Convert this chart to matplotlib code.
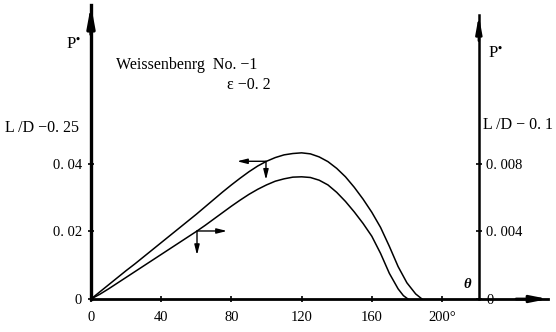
import matplotlib
matplotlib.use("Agg")
import matplotlib.pyplot as plt

plt.rcParams['font.family'] = ['Liberation Serif', 'DejaVu Serif']
plt.rcParams['mathtext.fontset'] = 'stix'

# --- data ---
theta_upper = [0, 5, 10, 15, 20, 25, 30, 35, 40, 45, 50, 55, 60, 65, 70, 75, 80, 85, 90, 95, 100,
               105, 110, 115, 120, 125, 130, 135, 140, 145, 150, 155, 160, 165, 170, 175, 180, 185, 188.6]
p_upper = [0, 0.0021, 0.0042, 0.0063, 0.0084, 0.0104, 0.0125, 0.0146, 0.0167, 0.0188, 0.0209, 0.0230,
           0.0251, 0.0273, 0.0295, 0.0317, 0.0338, 0.0358, 0.0377, 0.0394, 0.0408, 0.0419, 0.0427,
           0.0431, 0.0433, 0.0430, 0.0421, 0.0407, 0.0387, 0.0362, 0.0331, 0.0296, 0.0257, 0.0212,
           0.0156, 0.0096, 0.0048, 0.0015, 0]                   # L/D = 0.25, left axis

theta_lower = [0, 5, 10, 15, 20, 25, 30, 35, 40, 45, 50, 55, 60, 65, 70, 75, 80, 85, 90, 95, 100,
               105, 110, 115, 120, 125, 130, 135, 140, 145, 150, 155, 160, 165, 170, 175, 178, 180.6]
p_lower = [0, 0.00028, 0.0006, 0.00094, 0.00128, 0.00162, 0.00196, 0.0023, 0.00264, 0.00298,
           0.00332, 0.00366, 0.0040, 0.00436, 0.00474, 0.00512, 0.0055, 0.00586, 0.0062, 0.0065,
           0.00676, 0.00698, 0.00712, 0.00722, 0.00724, 0.0072, 0.00704, 0.00676, 0.00632, 0.00578,
           0.00516, 0.00448, 0.00372, 0.0027, 0.00152, 0.0006, 0.0002, 0]   # L/D = 0.1, right axis

x_ticks = [0, 40, 80, 120, 160, 200]
x_labels = ['0', '40', '80', '120', '160', '200°']
left_ticks = [0, 0.02, 0.04]
left_labels = ['0', '0. 02', '0. 04']
right_ticks = [0, 0.004, 0.008]
right_labels = ['0', '0. 004', '0. 008']

# indicator arrows: (point on curve x, y, end of horizontal arrow x, end of down arrow y)
upper_marker = (99.7, 0.0408, 83.2, 0.0353)
lower_marker = (60.4, 0.00403, 77.5, 0.0026)

x_max = 260.4
y_max = 0.0871
right_axis_pos = 221
right_axis_top = 0.0168

fig = plt.figure(figsize=(5.56, 3.32), dpi=100)
ax = fig.add_axes([91/556, 33/332, 457/556, 294/332])
ax.set_xlim(0, x_max)
ax.set_ylim(0, y_max)
for s in ['top', 'right']:
    ax.spines[s].set_visible(False)
ax.spines['left'].set_linewidth(2.4)
ax.spines['bottom'].set_linewidth(2.0)

ax.plot(theta_upper, p_upper, color='black', lw=1.1)

ax.set_xticks(x_ticks, labels=x_labels)
ax.set_yticks(left_ticks, labels=left_labels)
ax.tick_params(axis='both', direction='inout', length=5, width=1.2, labelsize=10.5)
ax.tick_params(axis='x', pad=6)
ax.tick_params(axis='y', pad=4)

# arrows on axes
ax.annotate('', xy=(0, 1.0), xycoords='axes fraction', xytext=(0, 0.9),
            arrowprops=dict(arrowstyle='-|>,head_length=1.2,head_width=0.22', lw=2.4, color='black',
                            shrinkA=0, shrinkB=0))
ax.annotate('', xy=(1.0, 0), xycoords='axes fraction', xytext=(0.93, 0),
            arrowprops=dict(arrowstyle='-|>,head_length=1.0,head_width=0.2', lw=2.0, color='black',
                            shrinkA=0, shrinkB=0))

ax2 = ax.twinx()
ax2.set_ylim(0, y_max / 5)
for s in ['top', 'left', 'bottom']:
    ax2.spines[s].set_visible(False)
ax2.spines['right'].set_position(('data', right_axis_pos))
ax2.spines['right'].set_bounds(0, right_axis_top)
ax2.spines['right'].set_linewidth(1.8)
ax2.set_yticks(right_ticks, labels=right_labels)
ax2.tick_params(axis='y', direction='inout', length=5, width=1.2, labelsize=10.5, pad=3)
ax2.plot(theta_lower, p_lower, color='black', lw=1.1)
ax2.annotate('', xy=(right_axis_pos, right_axis_top), xycoords='data',
             xytext=(right_axis_pos, right_axis_top - 0.0015),
             arrowprops=dict(arrowstyle='-|>,head_length=1.0,head_width=0.18', lw=1.8, color='black',
                             shrinkA=0, shrinkB=0))

# indicator arrows on curves
ux, uy, uxe, uye = upper_marker
ax.annotate('', xy=(uxe, uy), xytext=(ux, uy),
            arrowprops=dict(arrowstyle='-|>,head_length=0.6,head_width=0.15', lw=1.0, color='black',
                            shrinkA=0, shrinkB=0))
ax.annotate('', xy=(ux, uye), xytext=(ux, uy),
            arrowprops=dict(arrowstyle='-|>,head_length=0.6,head_width=0.15', lw=1.0, color='black',
                            shrinkA=0, shrinkB=0))
lx, ly, lxe, lye = lower_marker
ax2.annotate('', xy=(lxe, ly), xytext=(lx, ly),
             arrowprops=dict(arrowstyle='-|>,head_length=0.6,head_width=0.15', lw=1.0, color='black',
                             shrinkA=0, shrinkB=0))
ax2.annotate('', xy=(lx, lye), xytext=(lx, ly),
             arrowprops=dict(arrowstyle='-|>,head_length=0.6,head_width=0.15', lw=1.0, color='black',
                             shrinkA=0, shrinkB=0))

# texts (figure pixel coordinates, origin top-left)
def ftext(x, y, s, **kw):
    fig.text(x / 556, 1 - y / 332, s, va='center', **kw)

ftext(66, 45, 'P$^{\\bullet}$', fontsize=12, ha='left')
ftext(488, 54, 'P$^{\\bullet}$', fontsize=12, ha='left')
ftext(116, 65, 'Weissenbenrg  No. −1', fontsize=11.5, ha='left')
ftext(227, 85, 'ε −0. 2', fontsize=11.5, ha='left')
ftext(5, 128, 'L /D −0. 25', fontsize=11.5, ha='left')
ftext(483, 125, 'L /D − 0. 1', fontsize=11.5, ha='left')
ftext(467, 285, 'θ', fontsize=10.5, ha='center', fontweight='bold', style='italic')

fig.savefig('out.png', dpi=100)
